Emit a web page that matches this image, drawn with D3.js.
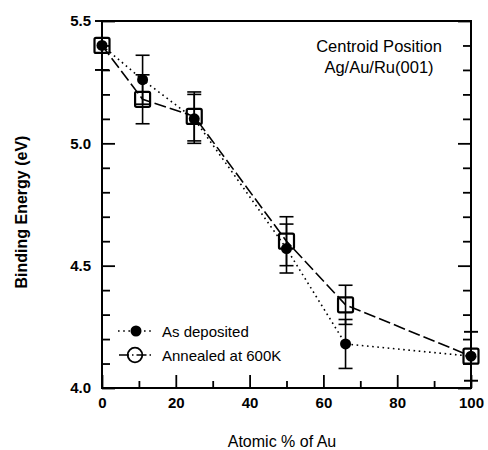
<!DOCTYPE html>
<html><head><meta charset="utf-8">
<script src="https://cdn.jsdelivr.net/npm/d3@7"></script>
<style>body{margin:0;background:#fff}</style>
</head><body><svg id="chart" width="488" height="450"></svg>
<script>
// Centroid binding energy of Ag/Au/Ru(001) vs. Au content
const composition = [0, 11, 25, 50, 66, 100];
const asDeposited = [5.40, 5.26, 5.10, 4.57, 4.18, 4.13];
const asDepositedErr = [0.10, 0.10, 0.10, 0.10, 0.10, 0.10];
const annealed = [5.40, 5.18, 5.11, 4.60, 4.34, 4.13];
const annealedErr = [0.10, 0.10, 0.10, 0.10, 0.08, 0.10];
const xMajorTicks = [0, 20, 40, 60, 80, 100];
const xMinorTicks = [10, 30, 50, 70, 90];
const yMajorTicks = [4.0, 4.5, 5.0, 5.5];
const yMinorTicks = [4.1, 4.2, 4.3, 4.4, 4.6, 4.7, 4.8, 4.9, 5.1, 5.2, 5.3, 5.4];
const legendLabels = ["As deposited", "Annealed at 600K"];
const noteLines = ["Centroid Position", "Ag/Au/Ru(001)"];

const svg = d3.select("#chart");
const plotL = 102, plotR = 471, plotT = 21, plotB = 388;
const x = d3.scaleLinear().domain([0, 100]).range([plotL, plotR]);
const y = d3.scaleLinear().domain([4.0, 5.5]).range([plotB, plotT]);
const font = "'Liberation Sans', Arial, sans-serif";

// axes with inward ticks
const styleAxis = g => {
  g.select(".domain").remove();
  g.selectAll(".tick line").attr("stroke", "#000").attr("stroke-width", 1.8);
  g.selectAll(".tick text").attr("fill", "#000").attr("font-family", font)
    .attr("font-size", 15).attr("font-weight", "bold");
};
svg.append("g").attr("transform", `translate(0,${plotB})`)
  .call(d3.axisBottom(x).tickValues(xMajorTicks).tickSize(-13).tickPadding(9).tickFormat(d3.format("d")))
  .call(styleAxis);
svg.append("g").attr("transform", `translate(0,${plotB})`)
  .call(d3.axisBottom(x).tickValues(xMinorTicks).tickSize(-7).tickFormat(""))
  .call(styleAxis);
svg.append("g").attr("transform", `translate(${plotL},0)`)
  .call(d3.axisLeft(y).tickValues(yMajorTicks).tickSize(-13).tickPadding(11).tickFormat(d3.format(".1f")))
  .call(styleAxis);
svg.append("g").attr("transform", `translate(${plotL},0)`)
  .call(d3.axisLeft(y).tickValues(yMinorTicks).tickSize(-8).tickFormat(""))
  .call(styleAxis);
svg.append("g").attr("transform", `translate(${plotR},0)`)
  .call(d3.axisRight(y).tickValues(yMajorTicks).tickSize(-13).tickFormat(""))
  .call(styleAxis);
svg.append("g").attr("transform", `translate(${plotR},0)`)
  .call(d3.axisRight(y).tickValues(yMinorTicks).tickSize(-8).tickFormat(""))
  .call(styleAxis);

// frame
svg.append("rect").attr("x", plotL).attr("y", plotT)
  .attr("width", plotR - plotL).attr("height", plotB - plotT)
  .attr("fill", "none").attr("stroke", "#000").attr("stroke-width", 2);

// axis titles
svg.append("text").attr("x", 282).attr("y", 447)
  .attr("text-anchor", "middle").attr("font-family", font).attr("font-size", 16)
  .text("Atomic % of Au");
svg.append("text").attr("transform", `translate(27,212) rotate(-90)`)
  .attr("text-anchor", "middle").attr("font-family", font).attr("font-size", 16)
  .attr("font-weight", "bold")
  .text("Binding Energy (eV)");

// note
svg.selectAll(".note").data(noteLines).join("text")
  .attr("x", 379).attr("y", (d, i) => 52 + i * 21)
  .attr("text-anchor", "middle").attr("font-family", font).attr("font-size", 16.5)
  .text(d => d);

const ptsDep = composition.map((c, i) => ({c, v: asDeposited[i], e: asDepositedErr[i]}));
const ptsAnn = composition.map((c, i) => ({c, v: annealed[i], e: annealedErr[i]}));
const line = d3.line().x(d => x(d.c)).y(d => y(d.v));

// connecting lines
svg.append("path").datum(ptsDep).attr("d", line).attr("fill", "none")
  .attr("stroke", "#000").attr("stroke-width", 1.6).attr("stroke-dasharray", "1.6,3.6");
svg.append("path").datum(ptsAnn).attr("d", line).attr("fill", "none")
  .attr("stroke", "#000").attr("stroke-width", 1.6).attr("stroke-dasharray", "12,4");

// error bars
function errorBars(pts) {
  const g = svg.append("g").attr("stroke", "#000").attr("stroke-width", 1.6);
  pts.forEach(d => {
    g.append("line").attr("x1", x(d.c)).attr("x2", x(d.c)).attr("y1", y(d.v - d.e)).attr("y2", y(d.v + d.e));
    [d.v - d.e, d.v + d.e].forEach(v => {
      g.append("line").attr("x1", x(d.c) - 7).attr("x2", x(d.c) + 7).attr("y1", y(v)).attr("y2", y(v));
    });
  });
}
errorBars(ptsDep);
errorBars(ptsAnn);

// markers
const sq = 15;
svg.selectAll(".sq").data(ptsAnn).join("rect")
  .attr("x", d => x(d.c) - sq / 2).attr("y", d => y(d.v) - sq / 2)
  .attr("width", sq).attr("height", sq).attr("rx", 1.5)
  .attr("fill", "none").attr("stroke", "#000").attr("stroke-width", 2.2);
svg.selectAll(".dot").data(ptsDep).join("circle")
  .attr("cx", d => x(d.c)).attr("cy", d => y(d.v)).attr("r", 5.5).attr("fill", "#000");

// legend
const lg = svg.append("g");
lg.append("line").attr("x1", 118).attr("x2", 153).attr("y1", 331).attr("y2", 331)
  .attr("stroke", "#000").attr("stroke-width", 1.5).attr("stroke-dasharray", "1.6,3.6");
lg.append("circle").attr("cx", 136).attr("cy", 331).attr("r", 5.5).attr("fill", "#000");
lg.append("line").attr("x1", 119).attr("x2", 153).attr("y1", 355).attr("y2", 355)
  .attr("stroke", "#000").attr("stroke-width", 1.5).attr("stroke-dasharray", "10,3,1.5,3");
lg.append("circle").attr("cx", 135).attr("cy", 355).attr("r", 7.3)
  .attr("fill", "none").attr("stroke", "#000").attr("stroke-width", 1.8);
lg.selectAll(".lt").data(legendLabels).join("text")
  .attr("x", 162).attr("y", (d, i) => 336.5 + i * 24)
  .attr("font-family", font).attr("font-size", 15).text(d => d);
</script></body></html>
